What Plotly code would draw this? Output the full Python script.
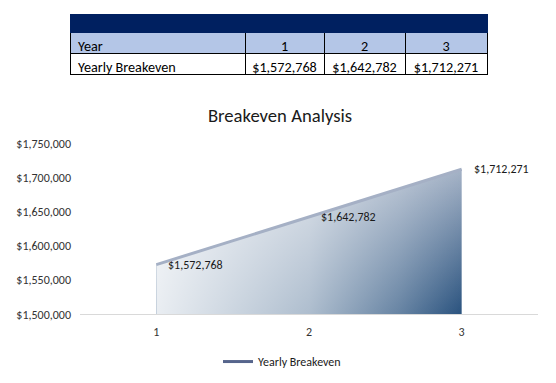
import plotly.graph_objects as go

# ---- data ----
years = [1, 2, 3]
year_labels = ["1", "2", "3"]
breakeven = [1572768, 1642782, 1712271]
series_name = "Yearly Breakeven"
title_text = "Breakeven Analysis"
y_ticks = [1500000, 1550000, 1600000, 1650000, 1700000, 1750000]

W, H = 556, 383
FONT = "Carlito, Calibri, Liberation Sans, Arial, sans-serif"


def money(v):
    return f"${v:,.0f}"


def px_x(p):
    return p / W


def px_y(p):
    return 1 - p / H


fig = go.Figure()

# ---- table ----
fig.add_trace(go.Table(
    domain=dict(x=[px_x(70), px_x(487.5)], y=[px_y(76) - 0.02, px_y(8)]),
    columnwidth=[175, 79, 81, 82],
    header=dict(values=["", "", "", ""], fill_color="#002060",
                line=dict(color="#002060", width=1), height=18,
                font=dict(size=2)),
    cells=dict(
        values=[["Year", series_name]] + [[yl, money(v)] for yl, v in zip(year_labels, breakeven)],
        fill_color=[["#b4c6e7", "#ffffff"]] * 4,
        line=dict(color="#000000", width=1),
        align=["left", "center", "center", "center"],
        font=dict(family=FONT, size=14.2, color="#000000"),
        height=21,
    ),
))

# ---- area: vertical gradient base ----
fig.add_trace(go.Scatter(
    x=years, y=breakeven, mode="none", fill="tozeroy", showlegend=False,
    hoverinfo="skip",
    fillgradient=dict(type="vertical",
                      colorscale=[[0, "#244e7b"], [1, "#a4b2c6"]],
                      start=y_ticks[0], stop=max(breakeven)),
))
# ---- area: horizontal light overlay ----
fig.add_trace(go.Scatter(
    x=years, y=breakeven, mode="none", fill="tozeroy", showlegend=False,
    hoverinfo="skip",
    fillgradient=dict(type="horizontal",
                      colorscale=[[0, "rgba(255,255,255,0.9)"],
                                  [0.5, "rgba(255,255,255,0.62)"],
                                  [0.8, "rgba(255,255,255,0.28)"],
                                  [1, "rgba(255,255,255,0)"]],
                      start=years[0], stop=years[-1]),
))
# ---- top line ----
fig.add_trace(go.Scatter(
    x=years, y=breakeven, mode="lines", showlegend=False,
    line=dict(color="#a5b0c5", width=3),
))
# ---- legend entry ----
fig.add_trace(go.Scatter(
    x=[None], y=[None], mode="lines", name=series_name,
    line=dict(color="#56658c", width=3),
))

for x, v in zip(years, breakeven):
    fig.add_annotation(x=x, y=v, text=money(v), showarrow=False,
                       xanchor="left", yanchor="middle", xshift=10,
                       font=dict(family=FONT, size=12, color="#1a1a1a"))

fig.update_layout(
    width=W, height=H,
    margin=dict(l=0, r=0, t=0, b=0),
    paper_bgcolor="white", plot_bgcolor="white",
    font=dict(family=FONT, size=12, color="#333333"),
    title=dict(text=title_text, x=px_x(280), xanchor="center",
               y=px_y(115), yanchor="middle",
               font=dict(family=FONT, size=18.67, color="#1a1a1a")),
    xaxis=dict(domain=[px_x(80), px_x(538)], range=[0.5, 3.5],
               tickvals=years, ticktext=year_labels, showgrid=False,
               zeroline=False, showline=True, linecolor="#d9d9d9",
               linewidth=1, ticks="", ticklabelstandoff=6),
    yaxis=dict(domain=[1 - 319 / H, 1 - 141.7 / H],
               range=[y_ticks[0], y_ticks[-1]], tickvals=y_ticks,
               ticktext=[money(t) for t in y_ticks], showgrid=False,
               zeroline=False, showline=False, ticks="",
               ticklabelstandoff=8),
    legend=dict(orientation="h", x=px_x(282), xanchor="center",
                y=px_y(368), yanchor="middle",
                font=dict(family=FONT, size=12, color="#1a1a1a")),
    showlegend=True,
)

fig.write_html("out.html", config={"displayModeBar": False},
               post_script="document.body.style.margin='0';document.body.style.overflow='hidden';")
